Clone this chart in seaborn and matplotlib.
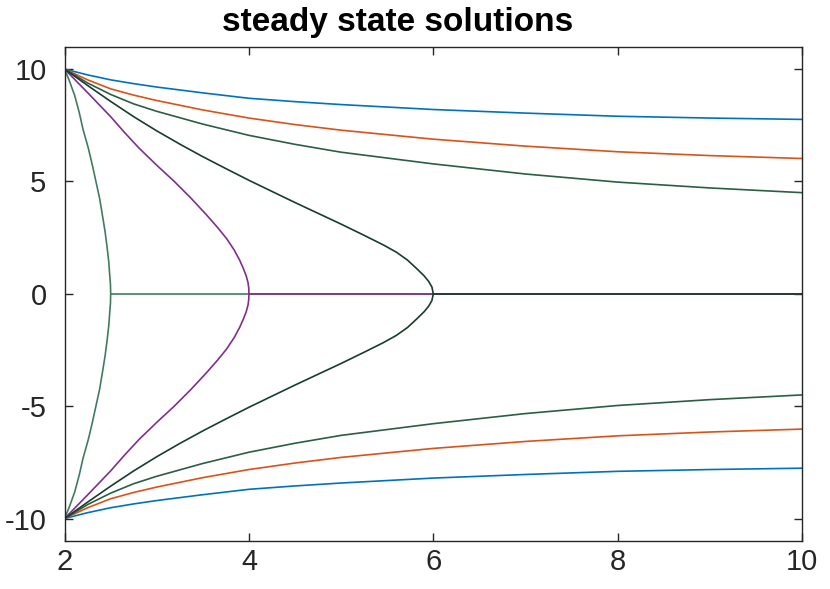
import numpy as np
import pandas as pd
import matplotlib
matplotlib.use("Agg")
import matplotlib.pyplot as plt
import seaborn as sns

# branches that go all the way to x = 10 (upper half, lower half)
x_outer = [2, 2.25, 2.5, 2.75, 3, 3.5, 4, 4.5, 5, 6, 7, 8, 9, 10]
blue_up = [10, 9.74, 9.52, 9.35, 9.2, 8.94, 8.7, 8.55, 8.42, 8.2, 8.04, 7.9, 7.82, 7.76]
blue_lo = [-10, -9.74, -9.52, -9.35, -9.2, -8.94, -8.7, -8.55, -8.42, -8.2, -8.04, -7.9, -7.82, -7.76]
orange_up = [10, 9.52, 9.12, 8.84, 8.6, 8.18, 7.82, 7.53, 7.28, 6.88, 6.57, 6.32, 6.15, 6.02]
orange_lo = [-10, -9.52, -9.12, -8.84, -8.6, -8.18, -7.82, -7.53, -7.28, -6.88, -6.57, -6.32, -6.15, -6.02]
green_up = [10, 9.38, 8.87, 8.45, 8.12, 7.55, 7.05, 6.65, 6.3, 5.78, 5.33, 4.97, 4.71, 4.5]
green_lo = [-10, -9.38, -8.87, -8.45, -8.12, -7.55, -7.05, -6.65, -6.3, -5.78, -5.33, -4.97, -4.71, -4.5]

# folded branches (x read along y from 10 down to -10)
teal_x = [2, 2.05, 2.11, 2.16, 2.2, 2.257, 2.3, 2.34, 2.38, 2.41, 2.44, 2.463, 2.48, 2.49, 2.498, 2.5,
          2.498, 2.49, 2.48, 2.463, 2.44, 2.41, 2.38, 2.34, 2.3, 2.257, 2.2, 2.16, 2.11, 2.05, 2]
teal_y = [10, 9.5, 8.82, 8.05, 7.32, 6.49, 5.75, 5.0, 4.25, 3.51, 2.75, 2.01, 1.4, 0.82, 0.4, 0,
          -0.4, -0.82, -1.4, -2.01, -2.75, -3.51, -4.25, -5.0, -5.75, -6.49, -7.32, -8.05, -8.82, -9.5, -10]
purple_x = [2, 2.25, 2.5, 2.65, 2.806, 3.0, 3.19, 3.37, 3.54, 3.66, 3.757, 3.84, 3.9, 3.94, 3.97, 3.99, 3.998, 4.0,
            3.998, 3.99, 3.97, 3.94, 3.9, 3.84, 3.757, 3.66, 3.54, 3.37, 3.19, 3.0, 2.806, 2.65, 2.5, 2.25, 2]
purple_y = [10, 8.95, 7.88, 7.18, 6.49, 5.72, 5.0, 4.26, 3.51, 2.95, 2.46, 1.95, 1.49, 1.12, 0.8, 0.5, 0.25, 0,
            -0.25, -0.5, -0.8, -1.12, -1.49, -1.95, -2.46, -2.95, -3.51, -4.26, -5.0, -5.72, -6.49, -7.18, -7.88,
            -8.95, -10]
dark_x = [2, 2.25, 2.5, 2.75, 3, 3.25, 3.5, 3.75, 4, 4.5, 5, 5.25, 5.46, 5.6, 5.72, 5.82, 5.9, 5.95, 5.985, 6.0,
          5.985, 5.95, 5.9, 5.82, 5.72, 5.6, 5.46, 5.25, 5, 4.5, 4, 3.75, 3.5, 3.25, 3, 2.75, 2.5, 2.25, 2]
dark_y = [10, 9.27, 8.56, 7.88, 7.25, 6.66, 6.1, 5.57, 5.05, 4.06, 3.1, 2.6, 2.17, 1.85, 1.5, 1.12, 0.8, 0.55, 0.3, 0,
          -0.3, -0.55, -0.8, -1.12, -1.5, -1.85, -2.17, -2.6, -3.1, -4.06, -5.05, -5.57, -6.1, -6.66, -7.25, -7.88,
          -8.56, -9.27, -10]

# trivial branch y = 0 past each fold
zero_teal_x = [2.5, 10]
zero_purple_x = [4.0, 10]
zero_dark_x = [6.0, 10]
zero_y = [0, 0]

c_blue = "#0072BD"
c_orange = "#D95319"
c_green = "#2b5e45"
c_dark = "#183d2b"
c_teal = "#417c61"
c_purple = "#7E2F8E"

sns.set_theme(style="ticks")
plt.rcParams["font.family"] = ["Liberation Sans", "DejaVu Sans"]

fig = plt.figure(figsize=(8.3, 5.89), dpi=100)
ax = fig.add_axes([0.0778, 0.0815, 0.8885, 0.8394])

lw = 1.2
for ys, col in [(blue_up, c_blue), (orange_up, c_orange), (green_up, c_green),
                (blue_lo, c_blue), (orange_lo, c_orange), (green_lo, c_green)]:
    sns.lineplot(x=x_outer, y=ys, color=col, lw=lw, ax=ax)

sns.lineplot(x=zero_teal_x, y=zero_y, color=c_teal, lw=lw, ax=ax)
sns.lineplot(x=teal_x, y=teal_y, color=c_teal, lw=lw, sort=False, estimator=None, ax=ax)
sns.lineplot(x=zero_purple_x, y=zero_y, color=c_purple, lw=lw, ax=ax)
sns.lineplot(x=purple_x, y=purple_y, color=c_purple, lw=lw, sort=False, estimator=None, ax=ax)
sns.lineplot(x=zero_dark_x, y=zero_y, color=c_dark, lw=lw, ax=ax)
sns.lineplot(x=dark_x, y=dark_y, color=c_dark, lw=lw, sort=False, estimator=None, ax=ax)

ax.set_xlim(2, 10)
ax.set_ylim(-11, 11)
ax.set_xticks([2, 4, 6, 8, 10])
ax.set_yticks([-10, -5, 0, 5, 10])
ax.set_xticklabels(["2", "4", "6", "8", "10"])
ax.set_yticklabels(["-10", "-5", "0", "5", "10"])
ax.tick_params(direction="in", length=6, width=1, colors="#262626",
               labelsize=21, top=True, right=True, pad=5)
ax.tick_params(axis="y", pad=13)
for s in ax.spines.values():
    s.set_visible(True)
    s.set_color("#262626")
    s.set_linewidth(1)
ax.set_title("steady state solutions", fontsize=24, fontweight="bold", pad=11, x=0.452,
             color="black")

fig.savefig("out.png", dpi=100)
